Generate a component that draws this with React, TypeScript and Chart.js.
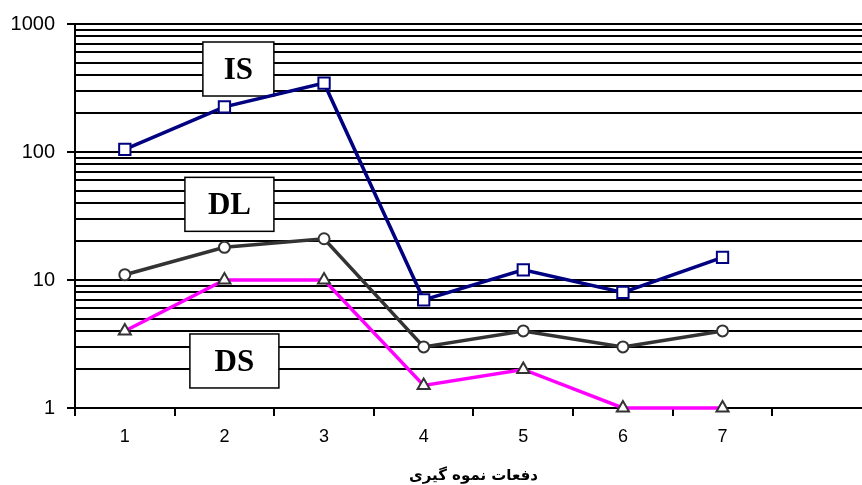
import React, { useEffect, useRef } from "react";
import { Chart, registerables } from "chart.js";

Chart.register(...registerables);

const categories = [1, 2, 3, 4, 5, 6, 7];
const isValues = [105, 225, 345, 7, 12, 8, 15];
const dlValues = [11, 18, 21, 3, 4, 3, 4];
const dsValues = [4, 10, 10, 1.5, 2, 1, 1];
const yMajorLabels = [1, 10, 100, 1000];
const yGridValues = [
  1, 2, 3, 4, 5, 6, 7, 8, 9,
  10, 20, 30, 40, 50, 60, 70, 80, 90,
  100, 200, 300, 400, 500, 600, 700, 800, 900, 1000,
];
const xTickValues = [0.5, 1, 1.5, 2, 2.5, 3, 3.5, 4, 4.5, 5, 5.5, 6, 6.5, 7, 7.5, 8];
const xTitle = "دفعات نموه گیری";
const boxLabels = ["IS", "DL", "DS"];
const boxAnchorX = [2.14, 2.05, 2.1];
const boxAnchorY = [445, 39, 2.33];
const boxWidths = [71, 89, 89];

const App: React.FC = () => {
  const ref = useRef<HTMLCanvasElement | null>(null);

  useEffect(() => {
    if (!ref.current) return;

    const boxPlugin = {
      id: "boxLabels",
      beforeDatasetsDraw(chart: any) {
        const ctx = chart.ctx;
        const xs = chart.scales.x;
        const ys = chart.scales.y;
        ctx.save();
        boxLabels.forEach((t, i) => {
          const cx = xs.getPixelForValue(boxAnchorX[i]);
          const cy = ys.getPixelForValue(boxAnchorY[i]);
          const w = boxWidths[i];
          const h = 54;
          ctx.fillStyle = "#ffffff";
          ctx.fillRect(cx - w / 2, cy - h / 2, w, h);
          ctx.strokeStyle = "#000000";
          ctx.lineWidth = 1.5;
          ctx.strokeRect(cx - w / 2, cy - h / 2, w, h);
          ctx.fillStyle = "#000000";
          ctx.font = "bold 31px 'Liberation Serif', 'DejaVu Serif', serif";
          ctx.textAlign = "center";
          ctx.textBaseline = "middle";
          ctx.fillText(t, cx, cy + 2);
        });
        ctx.restore();
      },
      afterDraw(chart: any) {
        const ctx = chart.ctx;
        const xs = chart.scales.x;
        ctx.save();
        ctx.fillStyle = "#000000";
        ctx.font = "bold 15px 'DejaVu Sans', sans-serif";
        ctx.textAlign = "center";
        ctx.textBaseline = "middle";
        ctx.fillText(xTitle, xs.getPixelForValue(4.5), 476);
        ctx.restore();
      },
    };

    const toXY = (arr: number[]) => arr.map((v, i) => ({ x: categories[i], y: v }));

    const chart = new Chart(ref.current, {
      type: "line",
      data: {
        datasets: [
          {
            label: "DS",
            data: toXY(dsValues),
            borderColor: "#ff00ff",
            borderWidth: 3.5,
            pointStyle: "triangle",
            pointRadius: 7,
            pointBorderWidth: 2,
            pointBorderColor: "#333333",
            pointBackgroundColor: "#ffffff",
            clip: false,
            tension: 0,
          },
          {
            label: "DL",
            data: toXY(dlValues),
            borderColor: "#333333",
            borderWidth: 3.5,
            pointStyle: "circle",
            pointRadius: 5.5,
            pointBorderWidth: 2,
            pointBorderColor: "#333333",
            pointBackgroundColor: "#ffffff",
            clip: false,
            tension: 0,
          },
          {
            label: "IS",
            data: toXY(isValues),
            borderColor: "#000080",
            borderWidth: 3.5,
            pointStyle: "rect",
            pointRadius: 8,
            pointBorderWidth: 2,
            pointBorderColor: "#000080",
            pointBackgroundColor: "#ffffff",
            clip: false,
            tension: 0,
          },
        ],
      },
      options: {
        responsive: false,
        animation: false,
        layout: { autoPadding: false, padding: { top: 24, right: 0, left: 0, bottom: 0 } },
        plugins: {
          legend: { display: false },
          tooltip: { enabled: false },
          title: { display: false },
        },
        scales: {
          x: {
            type: "linear",
            min: 0.5,
            max: 8.4,
            afterBuildTicks: (scale: any) => {
              scale.ticks = xTickValues.map((v) => ({ value: v }));
            },
            afterFit: (scale: any) => {
              scale.height = 77;
              scale.paddingLeft = 0;
              scale.paddingRight = 0;
            },
            ticks: {
              autoSkip: false,
              maxRotation: 0,
              padding: 10,
              color: "#000000",
              font: { family: "'Liberation Sans', Arial, sans-serif", size: 18 },
              callback: (v: any) => {
                const n = Number(v);
                return Number.isInteger(n) && n >= 1 && n <= 7 ? String(n) : "";
              },
            },
            grid: {
              drawOnChartArea: false,
              drawTicks: true,
              tickLength: 8,
              lineWidth: 2,
              color: (ctx: any) =>
                ctx.tick && !Number.isInteger(ctx.tick.value) ? "#000000" : "rgba(0,0,0,0)",
            },
            border: { display: true, color: "#000000", width: 2 },
          },
          y: {
            type: "logarithmic",
            min: 1,
            max: 1000,
            afterBuildTicks: (scale: any) => {
              scale.ticks = yGridValues.map((v) => ({ value: v }));
            },
            afterFit: (scale: any) => {
              scale.width = 75;
              scale.paddingTop = 0;
              scale.paddingBottom = 0;
            },
            ticks: {
              autoSkip: false,
              padding: 12,
              color: "#000000",
              font: { family: "'Liberation Sans', Arial, sans-serif", size: 20 },
              callback: (v: any) => (yMajorLabels.includes(Number(v)) ? String(v) : ""),
            },
            grid: {
              drawOnChartArea: true,
              drawTicks: true,
              tickLength: 8,
              lineWidth: 2,
              color: "#000000",
              tickColor: (ctx: any) =>
                ctx.tick && yMajorLabels.includes(ctx.tick.value) ? "#000000" : "rgba(0,0,0,0)",
            },
            border: { display: true, color: "#000000", width: 2 },
          },
        },
      },
      plugins: [boxPlugin],
    } as any);

    return () => chart.destroy();
  }, []);

  return (
    <div style={{ position: "fixed", left: 0, top: 0, width: 862, height: 485, background: "#ffffff" }}>
      <canvas ref={ref} width={862} height={485} style={{ width: 862, height: 485, display: "block" }} />
    </div>
  );
};

export default App;
